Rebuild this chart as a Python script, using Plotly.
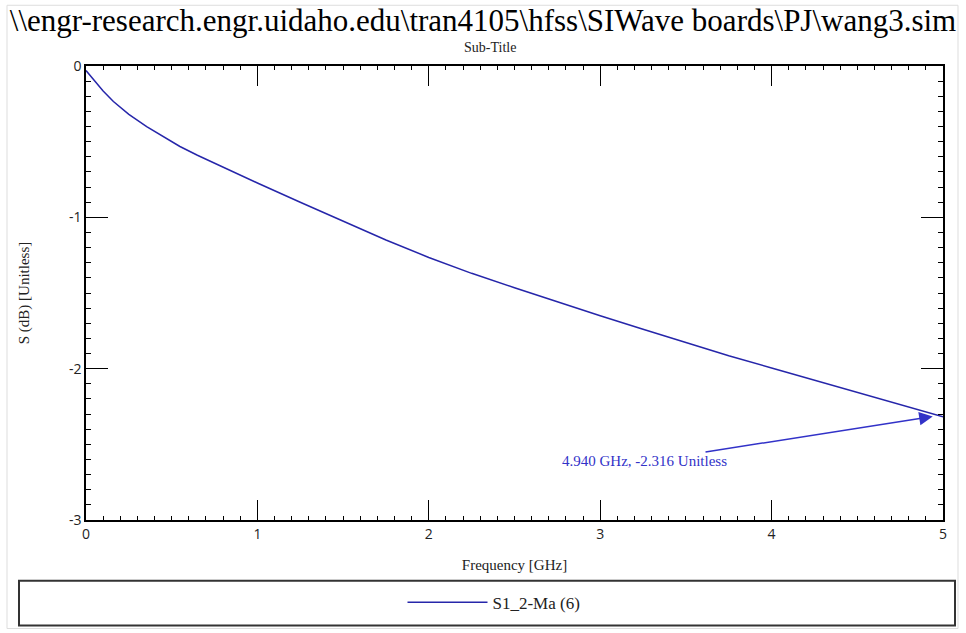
import plotly.graph_objects as go

# ---- data ----
freq_ghz = [0.0, 0.05, 0.1, 0.16, 0.25, 0.354, 0.45, 0.548, 0.65, 0.743, 0.85, 1.0,
            1.25, 1.5, 1.75, 2.0, 2.25, 2.5, 2.75, 3.0, 3.25, 3.5, 3.75, 4.0,
            4.25, 4.5, 4.75, 5.0]
s_db = [-0.03, -0.10, -0.165, -0.235, -0.32, -0.40, -0.468, -0.532, -0.590, -0.640, -0.695, -0.773,
        -0.90, -1.025, -1.15, -1.265, -1.37, -1.465, -1.56, -1.65, -1.74, -1.83, -1.915, -1.995,
        -2.075, -2.153, -2.235, -2.318]
series_name = "S1_2-Ma (6)"
marker_x = 4.940
marker_y = -2.316
marker_text = "4.940 GHz, -2.316 Unitless"
title_text = r"\\engr-research.engr.uidaho.edu\tran4105\hfss\SIWave boards\PJ\wang3.sim"
subtitle_text = "Sub-Title"
x_title = "Frequency [GHz]"
y_title = "S (dB) [Unitless]"
x_ticks = [0, 1, 2, 3, 4, 5]
x_tick_labels = ["0", "1", "2", "3", "4", "5"]
y_ticks = [-3, -2, -1, 0]
y_tick_labels = ["-3", "-2", "-1", "0"]

SERIF = "Liberation Serif, Times New Roman, serif"
SANS = "Open Sans, sans-serif"
LINE_BLUE = "#2626aa"
TEXT_BLUE = "#3232c8"

fig = go.Figure()
fig.add_trace(go.Scatter(
    x=freq_ghz, y=s_db, mode="lines", name=series_name,
    line=dict(color=LINE_BLUE, width=1.5),
))

W, H = 966, 633
L, R, T, B = 86, 23, 66, 111
pw, ph = W - L - R, H - T - B

def px(xp):
    return (xp - L) / pw

def py(yp):
    return (H - B - yp) / ph

axis_common = dict(
    ticks="inside", tickcolor="black", tickwidth=1,
    showline=True, linecolor="black", linewidth=1.5, mirror="ticks",
    showgrid=False, zeroline=False,
    tickfont=dict(family=SANS, size=14, color="#222"),
)

fig.update_layout(
    width=W, height=H,
    margin=dict(l=L, r=R, t=T, b=B),
    paper_bgcolor="white", plot_bgcolor="white",
    title=dict(text=title_text, x=0.5, xref="container", xanchor="center",
               y=1 - 20 / H, yref="container", yanchor="middle",
               font=dict(family=SERIF, size=31, color="black")),
    xaxis=dict(range=[0, 5], tickvals=x_ticks, ticktext=x_tick_labels, ticklen=20,
               minor=dict(dtick=0.1, ticklen=4, ticks="inside", tickcolor="black"),
               title=dict(text=x_title, font=dict(family=SERIF, size=15, color="#222"), standoff=18),
               **axis_common),
    xaxis2=dict(range=[0, 5], overlaying="x", anchor="y", dtick=0.5, ticks="inside",
                ticklen=10, tickcolor="black", showticklabels=False, mirror="ticks",
                showline=False, showgrid=False, zeroline=False),
    yaxis=dict(range=[-3, 0], tickvals=y_ticks, ticktext=y_tick_labels, ticklen=22,
               minor=dict(dtick=0.1, ticklen=5, ticks="inside", tickcolor="black"),
               title=dict(text=y_title, font=dict(family=SERIF, size=15, color="#222"), standoff=36),
               **axis_common),
    yaxis2=dict(range=[-3, 0], overlaying="y", anchor="x", dtick=0.5, ticks="inside",
                ticklen=11, tickcolor="black", showticklabels=False, mirror="ticks",
                showline=False, showgrid=False, zeroline=False),
    showlegend=True,
    legend=dict(orientation="h", x=px(494), xanchor="center", y=py(605), yanchor="middle",
                font=dict(family=SERIF, size=17, color="#222"),
                bgcolor="rgba(0,0,0,0)", itemwidth=80),
)

fig.add_annotation(text=subtitle_text, xref="paper", yref="paper",
                   x=px(490), y=py(47), yanchor="middle", showarrow=False,
                   font=dict(family=SERIF, size=14, color="#222"))

fig.add_annotation(x=marker_x, y=marker_y, xref="x", yref="y", text=marker_text,
                   showarrow=True, ax=-288, ay=45, axref="pixel", ayref="pixel",
                   arrowhead=2, arrowsize=1.8, arrowwidth=1.5, arrowcolor=TEXT_BLUE,
                   font=dict(family=SERIF, size=15, color=TEXT_BLUE))

# legend frame
fig.add_shape(type="rect", xref="paper", yref="paper",
              x0=px(19), x1=px(955), y0=py(628), y1=py(583),
              line=dict(color="#333", width=2))
# outer picture frame
fig.add_shape(type="rect", xref="paper", yref="paper",
              x0=px(7), x1=px(958), y0=py(631), y1=py(5),
              line=dict(color="#dddddd", width=1))

fig.write_html("out.html")
